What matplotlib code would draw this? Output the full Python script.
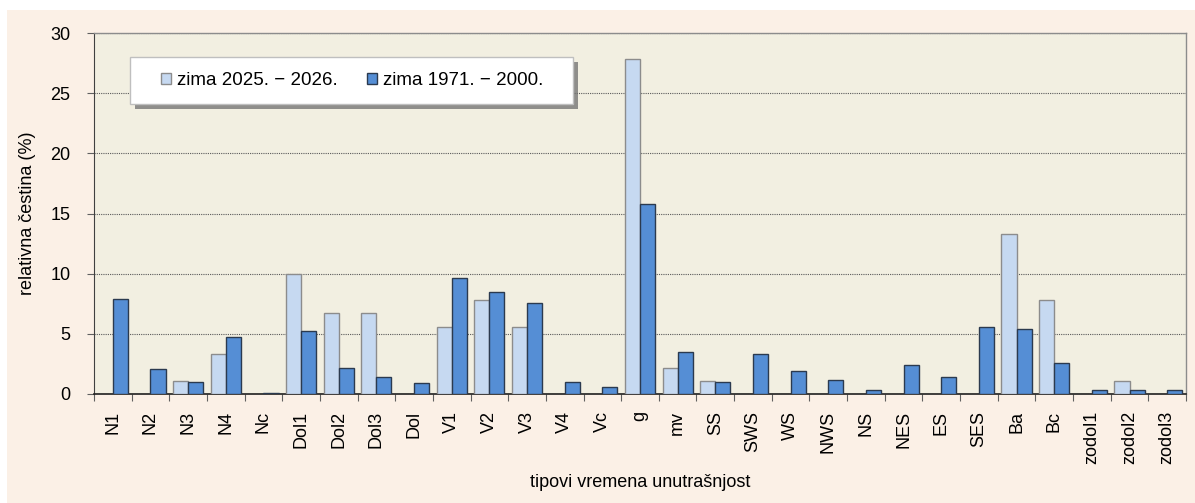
import matplotlib
matplotlib.use("Agg")
import matplotlib.pyplot as plt
from matplotlib.patches import Rectangle, Patch
import numpy as np

categories = ["N1", "N2", "N3", "N4", "Nc", "Dol1", "Dol2", "Dol3", "Dol", "V1", "V2", "V3",
              "V4", "Vc", "g", "mv", "SS", "SWS", "WS", "NWS", "NS", "NES", "ES", "SES",
              "Ba", "Bc", "zodol1", "zodol2", "zodol3"]
zima_2025 = [0, 0, 1.1, 3.3, 0, 10.0, 6.7, 6.7, 0, 5.6, 7.8, 5.6,
             0, 0, 27.8, 2.2, 1.1, 0, 0, 0, 0, 0, 0, 0,
             13.3, 7.8, 0, 1.1, 0]
zima_1971 = [7.9, 2.1, 1.0, 4.7, 0.1, 5.2, 2.2, 1.4, 0.9, 9.6, 8.5, 7.6,
             1.0, 0.6, 15.8, 3.5, 1.0, 3.3, 1.9, 1.2, 0.3, 2.4, 1.4, 5.6,
             5.4, 2.6, 0.3, 0.3, 0.3]
series_labels = ["zima 2025. \u2212 2026.", "zima 1971. \u2212 2000."]
yticks = [0, 5, 10, 15, 20, 25, 30]

plt.rcParams['font.family'] = ['Liberation Sans', 'DejaVu Sans']

W, H = 1195, 503
fig = plt.figure(figsize=(W / 100, H / 100), dpi=100)
fig.patch.set_facecolor('white')
fig.patches.append(Rectangle((7 / W, 0), 1 - 7 / W, (H - 10) / H, transform=fig.transFigure,
                             facecolor='#FBF0E6', edgecolor='none', zorder=-10))

ax_l, ax_r, ax_t, ax_b = 94, 1186, 33, 394
ax = fig.add_axes([ax_l / W, 1 - ax_b / H, (ax_r - ax_l) / W, (ax_b - ax_t) / H])
ax.set_facecolor('#F2EFE1')

c_light, e_light = '#C6D9F1', '#8C8C8C'
c_dark, e_dark = '#558ED5', '#2B3A4F'

x = np.arange(len(categories))
bw = 0.4
bars1 = ax.bar(x - bw / 2, zima_2025, bw, color=c_light, edgecolor=e_light, linewidth=1.0, zorder=3)
bars2 = ax.bar(x + bw / 2, zima_1971, bw, color=c_dark, edgecolor=e_dark, linewidth=1.0, zorder=3)
for b, v in zip(bars1, zima_2025):
    if v == 0:
        b.set_visible(False)
for b, v in zip(bars2, zima_1971):
    if v == 0:
        b.set_visible(False)

ax.set_xlim(-0.5, len(categories) - 0.5)
ax.set_ylim(0, 30)
ax.set_yticks(yticks)
ax.set_yticklabels([str(t) for t in yticks], fontsize=13)
ax.set_xticks(x)
ax.set_xticklabels(categories, rotation=90, fontsize=13)
ax.tick_params(axis='x', length=0, pad=12)
ax.set_xticks(np.arange(-0.5, len(categories), 1), minor=True)
ax.tick_params(axis='x', which='minor', length=5, width=0.8, color='#606060')
ax.tick_params(axis='y', length=5, width=0.8, color='#606060', pad=12)

ax.yaxis.grid(True, linestyle=(0, (1, 1)), color='#5A5A5A', linewidth=0.8, zorder=1)
ax.set_axisbelow(True)

for s in ['top', 'right']:
    ax.spines[s].set_color('#8C8C8C')
    ax.spines[s].set_linewidth(1.0)
ax.spines['left'].set_color('#404040')
ax.spines['bottom'].set_color('#202020')
ax.spines['bottom'].set_linewidth(1.2)

ax.set_ylabel("relativna čestina (%)", fontsize=13, labelpad=10)
ax.set_xlabel("tipovi vremena unutrašnjost", fontsize=13,
              family=['Liberation Sans Narrow', 'Liberation Sans', 'DejaVu Sans'], labelpad=7)

# legend box (pixel layout converted to axes fraction)
aw, ah = ax_r - ax_l, ax_b - ax_t
bx0, bx1, by0, by1 = 130, 573, 57, 104
def fx(px):
    return (px - ax_l) / aw
def fy(py):
    return (ax_b - py) / ah
shadow = Rectangle((fx(bx0 + 5), fy(by1 + 5)), fx(bx1) - fx(bx0), fy(by0) - fy(by1),
                   transform=ax.transAxes, facecolor='#6E6E6E', edgecolor='none', alpha=0.75, zorder=5)
box = Rectangle((fx(bx0), fy(by1)), fx(bx1) - fx(bx0), fy(by0) - fy(by1),
                transform=ax.transAxes, facecolor='white', edgecolor='#BFBFBF', linewidth=1.0, zorder=6)
ax.add_patch(shadow)
ax.add_patch(box)

handles = [Patch(facecolor=c_light, edgecolor=e_light, linewidth=1.0),
           Patch(facecolor=c_dark, edgecolor=e_dark, linewidth=1.0)]
leg = ax.legend(handles, series_labels, loc='center left',
                bbox_to_anchor=(fx(161), (fy(by0) + fy(by1)) / 2),
                borderaxespad=0, borderpad=0, ncol=2, fontsize=13.5, frameon=False,
                handlelength=0.55, handleheight=0.55, handletextpad=0.3,
                columnspacing=1.55)
leg.set_zorder(7)

fig.savefig('out.png', dpi=100, facecolor=fig.get_facecolor())
